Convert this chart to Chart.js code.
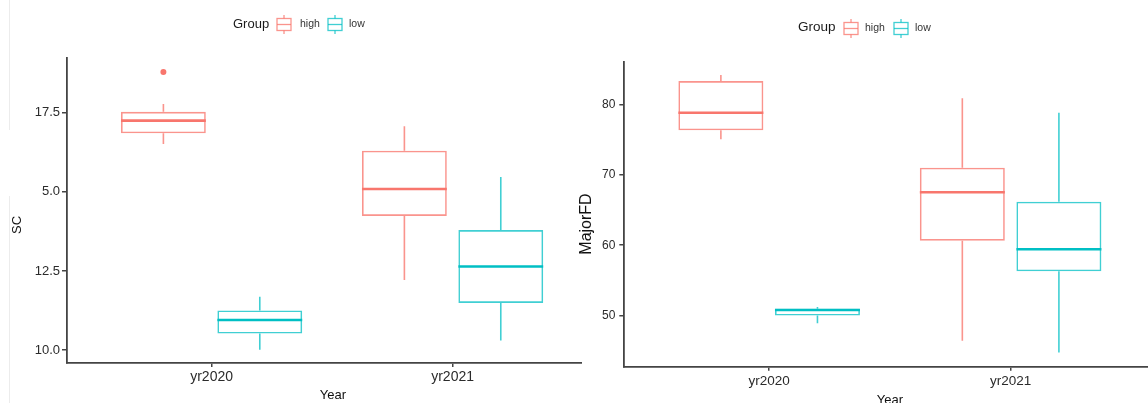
<!DOCTYPE html>
<html><head><meta charset="utf-8">
<script src="https://cdn.jsdelivr.net/npm/chart.js@4.4.1/dist/chart.umd.min.js"></script>
<style>
html,body{margin:0;padding:0;background:#fff;overflow:hidden;width:1148px;height:403px;}
body{position:relative;font-family:'Liberation Sans',Arial,Helvetica,sans-serif;}
.cv{position:absolute;top:0;}
.lg{position:absolute;white-space:nowrap;color:#1a1a1a;line-height:1;}
.sep{position:absolute;left:9px;width:1px;background:#ececec;}
</style></head><body>
<div class="sep" style="top:0;height:130px"></div>
<div class="sep" style="top:196px;height:207px"></div>
<canvas id="c1" class="cv" width="582" height="403" style="left:0;width:582px;height:403px"></canvas>
<canvas id="c2" class="cv" width="570" height="407" style="left:578px;width:570px;height:407px"></canvas>
<div id="leg1"></div>
<div id="leg2"></div>
<script>
// ---- categories ----
const years = ['yr2020', 'yr2021'];
const yearPos = [1, 2];
const groups = ['high', 'low'];

// ---- SC (left panel) ----
const scHighMin = [16.51, 12.21];
const scHighQ1  = [16.85, 14.24];
const scHighMed = [17.25, 15.09];
const scHighQ3  = [17.53, 16.30];
const scHighMax = [17.78, 17.07];
const scHighOut = [[18.79], []];
const scLowMin  = [10.01, 10.30];
const scLowQ1   = [10.52, 11.49];
const scLowMed  = [10.95, 12.64];
const scLowQ3   = [11.25, 13.79];
const scLowMax  = [11.68, 15.47];
const scLowOut  = [[], []];
const scTickValues = [10, 12.5, 15, 17.5];
const scTickLabels = ['10.0', '12.5', '5.0', '17.5'];

// ---- MajorFD (right panel) ----
const fdHighMin = [75.04, 46.43];
const fdHighQ1  = [76.31, 60.65];
const fdHighMed = [78.81, 67.52];
const fdHighQ3  = [83.30, 71.01];
const fdHighMax = [84.16, 80.85];
const fdHighOut = [[], []];
const fdLowMin  = [48.94, 44.77];
const fdLowQ1   = [50.02, 56.31];
const fdLowMed  = [50.80, 59.43];
const fdLowQ3   = [50.98, 66.18];
const fdLowMax  = [51.24, 78.81];
const fdLowOut  = [[], []];
const fdTickValues = [50, 60, 70, 80];
const fdTickLabels = ['50', '60', '70', '80'];

const HIGH = '#F8766D', LOW = '#00BFC4';
const HIGH_L = 'rgba(248,118,109,0.78)', LOW_L = 'rgba(0,191,196,0.75)';
const FONT = "'Liberation Sans', Arial, Helvetica, sans-serif";

function boxDataset(label, q1, q3, med, mn, mx, out, lineCol, medCol) {
  return {
    label,
    data: yearPos.map((p, i) => ({ x: p, y: [q1[i], q3[i]] })),
    backgroundColor: 'rgba(255,255,255,0)',
    borderColor: lineCol,
    borderWidth: 1.6,
    borderSkipped: false,
    categoryPercentage: 0.8,
    barPercentage: 0.88,
    stats: { q1, q3, med, min: mn, max: mx, out },
    medianColor: medCol
  };
}

const boxExtras = {
  id: 'boxExtras',
  afterDatasetsDraw(chart) {
    const ctx = chart.ctx, ys = chart.scales.y;
    chart.data.datasets.forEach((ds, di) => {
      if (!ds.stats) return;
      const meta = chart.getDatasetMeta(di);
      const st = ds.stats;
      meta.data.forEach((el, i) => {
        const x = el.x, hw = el.width / 2;
        ctx.save();
        ctx.strokeStyle = ds.borderColor;
        ctx.lineWidth = 1.6;
        ctx.beginPath();
        ctx.moveTo(x, ys.getPixelForValue(st.max[i]));
        ctx.lineTo(x, ys.getPixelForValue(st.q3[i]));
        ctx.moveTo(x, ys.getPixelForValue(st.q1[i]));
        ctx.lineTo(x, ys.getPixelForValue(st.min[i]));
        ctx.stroke();
        ctx.strokeStyle = ds.medianColor;
        ctx.lineWidth = 2.6;
        ctx.beginPath();
        const my = ys.getPixelForValue(st.med[i]);
        ctx.moveTo(x - hw, my);
        ctx.lineTo(x + hw, my);
        ctx.stroke();
        ctx.fillStyle = ds.medianColor;
        (st.out[i] || []).forEach(v => {
          ctx.beginPath();
          ctx.arc(x, ys.getPixelForValue(v), 3, 0, Math.PI * 2);
          ctx.fill();
        });
        ctx.restore();
      });
    });
  }
};

const axisTitles = {
  id: 'axisTitles',
  afterDraw(chart, args, opts) {
    const ctx = chart.ctx;
    (opts.items || []).forEach(t => {
      ctx.save();
      ctx.font = t.size + 'px ' + FONT;
      ctx.fillStyle = '#111';
      ctx.textAlign = 'center';
      ctx.textBaseline = 'middle';
      ctx.translate(t.x, t.y);
      if (t.rotate) ctx.rotate(-Math.PI / 2);
      ctx.fillText(t.text, 0, 0);
      ctx.restore();
    });
  }
};

function makeChart(id, cfg) {
  return new Chart(document.getElementById(id), {
    type: 'bar',
    data: { datasets: cfg.datasets },
    options: {
      responsive: false,
      animation: false,
      layout: { padding: { top: cfg.top, left: 0, right: 0, bottom: 0 } },
      plugins: {
        legend: { display: false },
        tooltip: { enabled: false },
        axisTitles: { items: cfg.titles }
      },
      scales: {
        x: {
          type: 'linear',
          offset: false,
          min: 0.4, max: cfg.xmax,
          afterBuildTicks: s => { s.ticks = yearPos.map(v => ({ value: v })); },
          afterFit: s => { s.height = cfg.xh; },
          ticks: {
            callback: v => years[yearPos.indexOf(v)],
            font: { family: FONT, size: cfg.xFont }, color: '#2b2b2b',
            padding: 2, autoSkip: false, maxRotation: 0
          },
          grid: { offset: false, drawOnChartArea: false, drawTicks: true, tickLength: 4, color: '#444', lineWidth: 1.5 },
          border: { display: true, color: '#444', width: 1.8 }
        },
        y: {
          type: 'linear',
          min: cfg.ymin, max: cfg.ymax,
          afterBuildTicks: s => { s.ticks = cfg.tickValues.map(v => ({ value: v })); },
          afterFit: s => { s.width = cfg.yw; },
          ticks: {
            callback: v => cfg.tickLabels[cfg.tickValues.indexOf(v)],
            font: { family: FONT, size: cfg.yFont }, color: '#2b2b2b',
            padding: cfg.yPad
          },
          grid: { drawOnChartArea: false, drawTicks: true, tickLength: 5, color: '#444', lineWidth: 1.5 },
          border: { display: true, color: '#444', width: 1.8 }
        }
      }
    },
    plugins: [boxExtras, axisTitles]
  });
}

makeChart('c1', {
  datasets: [
    boxDataset(groups[0], scHighQ1, scHighQ3, scHighMed, scHighMin, scHighMax, scHighOut, HIGH_L, HIGH),
    boxDataset(groups[1], scLowQ1, scLowQ3, scLowMed, scLowMin, scLowMax, scLowOut, LOW_L, LOW)
  ],
  top: 58, xh: 40, yw: 67, xmax: 2.537,
  ymin: 9.59, ymax: 19.23,
  tickValues: scTickValues, tickLabels: scTickLabels,
  xFont: 14, yFont: 13, yPad: 2,
  titles: [
    { text: 'SC', x: 17.5, y: 225, rotate: true, size: 13 },
    { text: 'Year', x: 333, y: 395, rotate: false, size: 13 }
  ]
});

makeChart('c2', {
  datasets: [
    boxDataset(groups[0], fdHighQ1, fdHighQ3, fdHighMed, fdHighMin, fdHighMax, fdHighOut, HIGH_L, HIGH),
    boxDataset(groups[1], fdLowQ1, fdLowQ3, fdLowMed, fdLowMin, fdLowMax, fdLowOut, LOW_L, LOW)
  ],
  top: 61.7, xh: 40.3, yw: 46.3, xmax: 2.569,
  ymin: 42.76, ymax: 86.05,
  tickValues: fdTickValues, tickLabels: fdTickLabels,
  xFont: 13.5, yFont: 12, yPad: 4,
  titles: [
    { text: 'MajorFD', x: 8.7, y: 224, rotate: true, size: 16 },
    { text: 'Year', x: 312, y: 400, rotate: false, size: 13 }
  ]
});

// ---- HTML legends (ggplot-style "Group" legend) ----
function keySVG(col) {
  return '<svg width="16" height="19" viewBox="0 0 16 19" style="display:block">' +
    '<line x1="8" y1="0" x2="8" y2="3.5" stroke="' + col + '" stroke-width="1.3"/>' +
    '<line x1="8" y1="15.5" x2="8" y2="19" stroke="' + col + '" stroke-width="1.3"/>' +
    '<rect x="1" y="3.5" width="14" height="12" fill="none" stroke="' + col + '" stroke-width="1.3"/>' +
    '<line x1="1" y1="9.5" x2="15" y2="9.5" stroke="' + col + '" stroke-width="1.3"/>' +
    '</svg>';
}
function buildLegend(id, pos) {
  const el = document.getElementById(id);
  const cols = [HIGH_L, LOW_L];
  let html = '<span class="lg" style="left:' + pos.title + 'px;top:' + (pos.cy - pos.tsize / 2 - 1) + 'px;font-size:' + pos.tsize + 'px">Group</span>';
  groups.forEach((g, i) => {
    html += '<span class="lg" style="left:' + pos.keys[i] + 'px;top:' + (pos.cy - 9.5) + 'px">' + keySVG(cols[i]) + '</span>';
    html += '<span class="lg" style="color:#333;left:' + pos.labels[i] + 'px;top:' + (pos.cy - pos.lsize / 2 - 1) + 'px;font-size:' + pos.lsize + 'px">' + g + '</span>';
  });
  el.innerHTML = html;
}
buildLegend('leg1', { title: 233, keys: [276, 327], labels: [300, 349], cy: 24, tsize: 13, lsize: 10.5 });
buildLegend('leg2', { title: 798, keys: [843, 893], labels: [865, 915], cy: 28, tsize: 13.5, lsize: 10.5 });
</script>
</body></html>
